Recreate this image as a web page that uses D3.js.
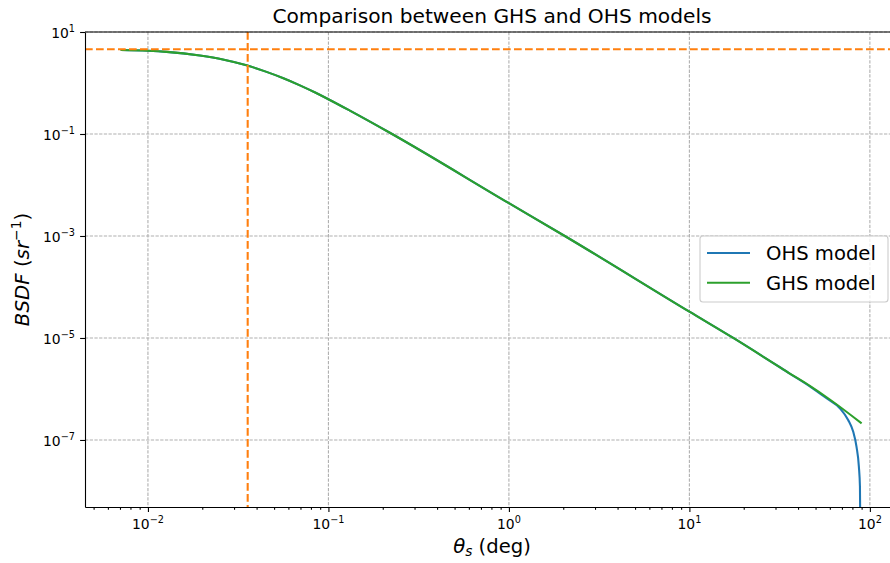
<!DOCTYPE html>
<html>
<head>
<meta charset="utf-8">
<script src="https://cdn.jsdelivr.net/npm/d3@7"></script>
<style>
  body { margin: 0; background: #fff; }
  svg { display: block; font-family: "DejaVu Sans", sans-serif; }
</style>
</head>
<body>
<div id="chart"></div>
<script>
// values
const thetaGHS = [0.00706, 0.01, 0.0127, 0.0194, 0.026, 0.0356, 0.045, 0.0563, 0.0695, 0.085, 0.1, 0.1315, 0.219, 1.0, 2.04, 10, 17.5, 36.0, 46.5, 60.0, 90];
const bsdfGHS = [4.43, 4.29, 4.08, 3.45, 2.9, 2.2, 1.67, 1.24, 0.90, 0.644, 0.481, 0.287, 0.1057, 4.4e-3, 1.0e-3, 3.28e-5, 1.0e-5, 2.01e-6, 1.15e-6, 6.22e-7, 2.12e-7];

const thetaOHS = [0.00706, 0.01, 0.0127, 0.0194, 0.026, 0.0356, 0.045, 0.0563, 0.0695, 0.085, 0.1, 0.1315, 0.219, 1.0, 2.04, 10, 17.5, 36.0, 46.5, 57.5, 68.2, 75.8, 80.8, 84.3, 86.9, 88.1, 88.5];
const bsdfOHS = [4.43, 4.29, 4.08, 3.45, 2.9, 2.2, 1.67, 1.24, 0.90, 0.644, 0.481, 0.287, 0.1057, 4.4e-3, 1.0e-3, 3.28e-5, 1.0e-5, 2.01e-6, 1.13e-6, 6.58e-7, 4.19e-7, 2.47e-7, 1.46e-7, 7.4e-8, 3.0e-8, 1.21e-8, 2e-9];

// orange reference lines
const refBSDF = 4.6;
const refTheta = 0.0357;

// tick values and their exponent labels
const xTicks = [0.01, 0.1, 1, 10, 100];
const xTickExp = ["\u22122", "\u22121", "0", "1", "2"];
const yTicks = [1e1, 1e-1, 1e-3, 1e-5, 1e-7];
const yTickExp = ["1", "\u22121", "\u22123", "\u22125", "\u22127"];

const seriesNames = ["OHS model", "GHS model"];
const seriesColors = ["#1f77b4", "#2ca02c"];

let svgWidth = 890;
let svgHeight = 563;

let margin = { top: 32, left: 85, bottom: 56, right: -9 };
let width = svgWidth - margin.left - margin.right;
let height = svgHeight - margin.top - margin.bottom;

let svg = d3.select("#chart")
  .append("svg")
  .attr("width", svgWidth)
  .attr("height", svgHeight);

let chartGroup = svg.append("g")
  .attr("transform", `translate(${margin.left}, ${margin.top})`);

let xScale = d3.scaleLog().domain([0.00448, 145]).range([0, width]);
let yScale = d3.scaleLog().domain([4.85e-9, 10]).range([height, 0]);

chartGroup.append("clipPath").attr("id", "clip")
  .append("rect").attr("width", width).attr("height", height);

// grid
chartGroup.append("g").selectAll("line")
  .data(xTicks).enter().append("line")
  .attr("x1", d => xScale(d)).attr("x2", d => xScale(d))
  .attr("y1", 0).attr("y2", height)
  .attr("stroke", "#b0b0b0").attr("stroke-width", 1.1)
  .attr("stroke-dasharray", "3.3,1.4");

chartGroup.append("g").selectAll("line")
  .data(yTicks).enter().append("line")
  .attr("y1", d => yScale(d)).attr("y2", d => yScale(d))
  .attr("x1", 0).attr("x2", width)
  .attr("stroke", "#b0b0b0").attr("stroke-width", 1.1)
  .attr("stroke-dasharray", "3.3,1.4");

// data lines
let line = d3.line()
  .x(d => xScale(d[0]))
  .y(d => yScale(d[1]))
  .curve(d3.curveMonotoneX);

let ohs = thetaOHS.map((t, i) => [t, bsdfOHS[i]]);
let ghs = thetaGHS.map((t, i) => [t, bsdfGHS[i]]);

let plotArea = chartGroup.append("g").attr("clip-path", "url(#clip)");

plotArea.append("path").datum(ohs)
  .attr("d", line).attr("fill", "none")
  .attr("stroke", seriesColors[0]).attr("stroke-width", 2.08);

plotArea.append("path").datum(ghs)
  .attr("d", line).attr("fill", "none")
  .attr("stroke", seriesColors[1]).attr("stroke-width", 2.08);

// orange dashed references
plotArea.append("line")
  .attr("x1", 0).attr("x2", width)
  .attr("y1", yScale(refBSDF)).attr("y2", yScale(refBSDF))
  .attr("stroke", "#ff7f0e").attr("stroke-width", 2.08)
  .attr("stroke-dasharray", "7.7,3.3");

plotArea.append("line")
  .attr("x1", xScale(refTheta)).attr("x2", xScale(refTheta))
  .attr("y1", 0).attr("y2", height)
  .attr("stroke", "#ff7f0e").attr("stroke-width", 2.08)
  .attr("stroke-dasharray", "7.7,3.3");

// x axis: major + minor ticks
let xMinor = [];
[0.001, 0.01, 0.1, 1, 10].forEach(dec => {
  for (let k = 2; k <= 9; k++) {
    let v = dec * k;
    if (v > xScale.domain()[0] && v < xScale.domain()[1]) xMinor.push(v);
  }
});

let xAxis = chartGroup.append("g")
  .attr("transform", `translate(0, ${height})`)
  .call(d3.axisBottom(xScale).tickValues(xTicks).tickSize(4.9).tickSizeOuter(0).tickFormat(""));
chartGroup.append("g")
  .attr("transform", `translate(0, ${height})`)
  .call(d3.axisBottom(xScale).tickValues(xMinor).tickSize(2.8).tickSizeOuter(0).tickFormat(""))
  .select(".domain").remove();

let yAxis = chartGroup.append("g")
  .call(d3.axisLeft(yScale).tickValues(yTicks).tickSize(4.9).tickSizeOuter(0).tickFormat(""));

chartGroup.selectAll(".domain").attr("stroke", "#000").attr("stroke-width", 1.1);
chartGroup.selectAll(".tick line").attr("stroke", "#000").attr("stroke-width", 1.1);

// top spine
chartGroup.append("line")
  .attr("x1", 0).attr("x2", width).attr("y1", 0).attr("y2", 0)
  .attr("stroke", "#000").attr("stroke-width", 1.1);

// tick labels with superscripts
let xLab = chartGroup.append("g").selectAll("text")
  .data(xTicks).enter().append("text")
  .attr("x", d => xScale(d))
  .attr("y", height + 22)
  .attr("text-anchor", "middle")
  .attr("font-size", "13.9px")
  .attr("fill", "#000");
xLab.append("tspan").text("10");
xLab.append("tspan").attr("dy", -6).attr("font-size", "9.7px").text((d, i) => xTickExp[i]);

let yLab = chartGroup.append("g").selectAll("text")
  .data(yTicks).enter().append("text")
  .attr("x", -10)
  .attr("y", d => yScale(d) + 6.4)
  .attr("text-anchor", "end")
  .attr("font-size", "13.9px")
  .attr("fill", "#000");
yLab.append("tspan").text("10");
yLab.append("tspan").attr("dy", -6).attr("font-size", "9.7px").text((d, i) => yTickExp[i]);

// title
svg.append("text")
  .attr("x", margin.left + width / 2)
  .attr("y", 23)
  .attr("text-anchor", "middle")
  .attr("font-size", "20.2px")
  .text("Comparison between GHS and OHS models");

// x label
let xTitle = svg.append("text")
  .attr("x", margin.left + width / 2)
  .attr("y", 553)
  .attr("text-anchor", "middle")
  .attr("font-size", "19.6px");
xTitle.append("tspan").attr("font-style", "italic").text("\u03b8");
xTitle.append("tspan").attr("font-style", "italic").attr("font-size", "13.7px").attr("dy", 3).text("s");
xTitle.append("tspan").attr("dy", -3).text(" (deg)");

// y label
let yTitle = svg.append("text")
  .attr("transform", `translate(29, ${margin.top + height / 2}) rotate(-90)`)
  .attr("text-anchor", "middle")
  .attr("font-size", "19.8px");
yTitle.append("tspan").attr("font-style", "italic").text("BSDF");
yTitle.append("tspan").text(" (");
yTitle.append("tspan").attr("font-style", "italic").text("sr");
yTitle.append("tspan").attr("font-size", "13.8px").attr("dy", -8).text("\u22121");
yTitle.append("tspan").attr("dy", 8).text(")");

// legend
let legend = svg.append("g").attr("transform", "translate(700, 236)");
legend.append("rect")
  .attr("width", 188).attr("height", 66)
  .attr("rx", 3).attr("ry", 3)
  .attr("fill", "#fff").attr("fill-opacity", 0.8)
  .attr("stroke", "#cccccc").attr("stroke-width", 1.1);

seriesNames.forEach((name, i) => {
  let yy = 17 + i * 29.7;
  legend.append("line")
    .attr("x1", 7).attr("x2", 50)
    .attr("y1", yy).attr("y2", yy)
    .attr("stroke", seriesColors[i]).attr("stroke-width", 2.08);
  legend.append("text")
    .attr("x", 66).attr("y", yy + 7)
    .attr("font-size", "19.6px")
    .text(name);
});
</script>
</body>
</html>
